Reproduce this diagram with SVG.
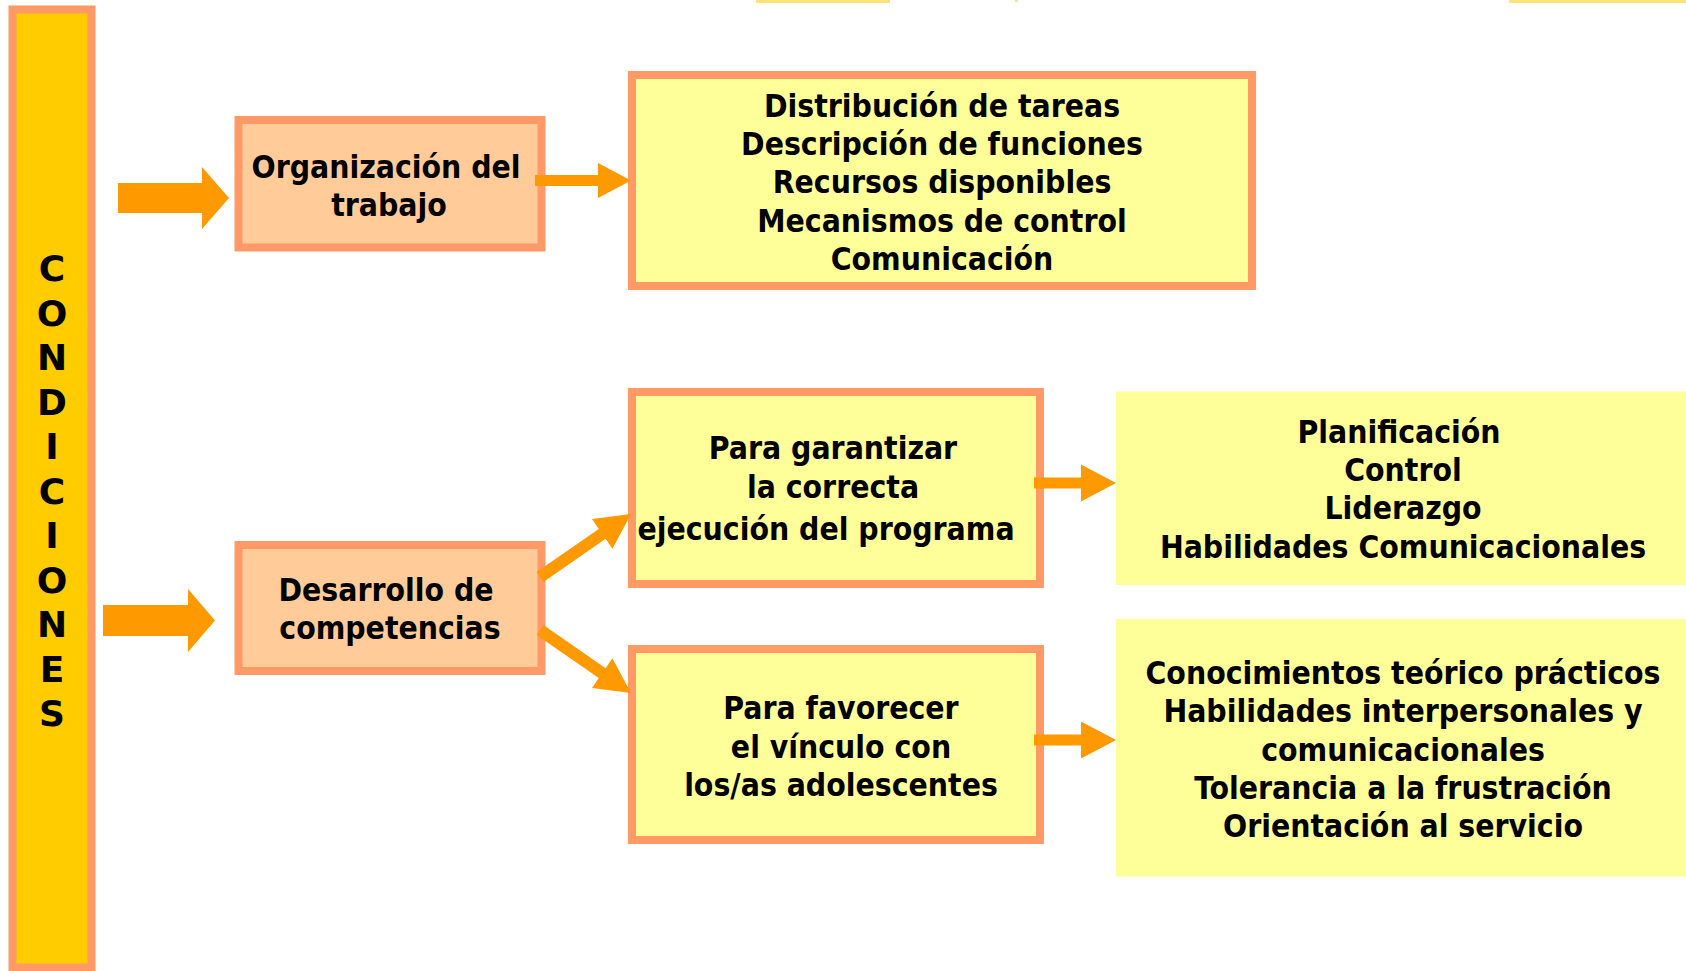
<svg xmlns="http://www.w3.org/2000/svg" width="1686" height="971" viewBox="0 0 1686 971">
<style>
.t{font-family:"DejaVu Sans Condensed","DejaVu Sans",sans-serif;font-weight:bold;font-size:31.6px;fill:#000;text-anchor:middle}
.v{font-family:"DejaVu Sans","Liberation Sans",sans-serif;font-weight:bold;font-size:36px;fill:#000;text-anchor:middle}
.ob{fill:#FFCC99;stroke:#FF9966;stroke-width:8}
.yb{fill:#FFFF99;stroke:#FF9966;stroke-width:8}
.pb{fill:#FFFF99}
.ar{fill:#FF9900}
</style>
<rect width="1686" height="971" fill="#FFFFFF"/>
<g id="top-slivers">
<rect x="756" y="0" width="134" height="3" fill="#FFE27A"/>
<rect x="1015" y="0" width="3" height="2" fill="#FFE27A"/>
<rect x="1509" y="0" width="177" height="3" fill="#FFE27A"/>
</g>
<g id="condiciones">
<rect x="12.5" y="9.5" width="79" height="958" fill="#FFCC00" stroke="#FF9966" stroke-width="8"/>
<text class="v" x="52" y="281">C</text>
<text class="v" x="52" y="325.5">O</text>
<text class="v" x="52" y="370">N</text>
<text class="v" x="52" y="414.5">D</text>
<text class="v" x="52" y="459">I</text>
<text class="v" x="52" y="503.5">C</text>
<text class="v" x="52" y="548">I</text>
<text class="v" x="52" y="592.5">O</text>
<text class="v" x="52" y="637">N</text>
<text class="v" x="52" y="681.5">E</text>
<text class="v" x="52" y="726">S</text>
</g>
<g id="organizacion">
<rect class="ob" x="238.5" y="120" width="303" height="127.5"/>
<text class="t" x="386" y="178">Organización del</text>
<text class="t" x="389" y="215.5">trabajo</text>
</g>
<g id="distribucion">
<rect class="yb" x="632" y="75" width="620" height="211"/>
<text class="t" x="942" y="117">Distribución de tareas</text>
<text class="t" x="942" y="155">Descripción de funciones</text>
<text class="t" x="942" y="193">Recursos disponibles</text>
<text class="t" x="942" y="231.5">Mecanismos de control</text>
<text class="t" x="942" y="269.5">Comunicación</text>
</g>
<g id="desarrollo">
<rect class="ob" x="238.5" y="545" width="303" height="126"/>
<text class="t" x="386" y="600.5">Desarrollo de</text>
<text class="t" x="390" y="639">competencias</text>
</g>
<g id="garantizar">
<rect class="yb" x="632" y="392" width="408" height="192"/>
<text class="t" x="833" y="458.5">Para garantizar</text>
<text class="t" x="833" y="497.5">la correcta</text>
<text class="t" x="826" y="540">ejecución del programa</text>
</g>
<g id="favorecer">
<rect class="yb" x="632" y="649" width="408" height="191"/>
<text class="t" x="841" y="719">Para favorecer</text>
<text class="t" x="841" y="757.5">el vínculo con</text>
<text class="t" x="841" y="795.5">los/as adolescentes</text>
</g>
<g id="planificacion">
<rect class="pb" x="1116" y="391.5" width="570" height="193.5"/>
<text class="t" x="1399" y="442.5">Planificación</text>
<text class="t" x="1403" y="481">Control</text>
<text class="t" x="1403" y="519">Liderazgo</text>
<text class="t" x="1403" y="557.5">Habilidades Comunicacionales</text>
</g>
<g id="conocimientos">
<rect class="pb" x="1116" y="619" width="570" height="257.5"/>
<text class="t" x="1403" y="683.5">Conocimientos teórico prácticos</text>
<text class="t" x="1403" y="722">Habilidades interpersonales y</text>
<text class="t" x="1403" y="760.5">comunicacionales</text>
<text class="t" x="1403" y="798.5">Tolerancia a la frustración</text>
<text class="t" x="1403" y="836.5">Orientación al servicio</text>
</g>
<g id="connectors">
<polygon class="ar" points="118,183 202,183 202,167 229,198 202,229 202,213 118,213"/>
<polygon class="ar" points="103,605 188,605 188,589 215,620.5 188,652 188,636 103,636"/>
<polygon class="ar" points="535,175 598,175 598,163 631,180.5 598,198 598,186 535,186"/>
<polygon class="ar" points="536.6,572.1 598.8,529 592,519.1 631,514 612.4,548.7 605.6,538.8 543.4,581.9"/>
<polygon class="ar" points="543.4,625.1 605.6,668.2 612.4,658.3 631,693 592,687.9 598.8,678 536.6,634.9"/>
<polygon class="ar" points="1034,477.5 1081,477.5 1081,464.5 1116,483 1081,501.5 1081,488.5 1034,488.5"/>
<polygon class="ar" points="1034,734.5 1081,734.5 1081,721.5 1116,740 1081,758.5 1081,745.5 1034,745.5"/>
</g>
</svg>
